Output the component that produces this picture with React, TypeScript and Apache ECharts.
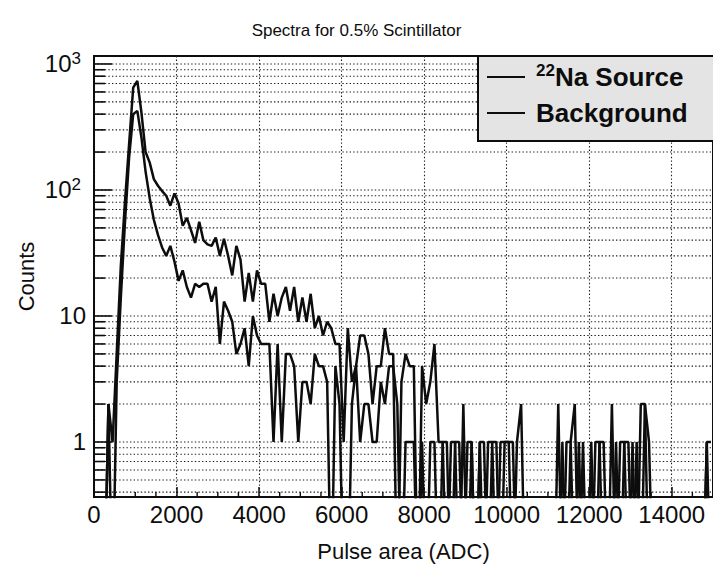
import React, { useEffect, useRef } from "react";
import * as echarts from "echarts";

// Histogram binning (ADC)
const BIN_WIDTH = 100;
const X_MIN = 0;
const X_MAX = 15000;
const X_MAJOR_STEP = 2000;
const xMinorTickValues = [500, 1000, 1500, 2500, 3000, 3500, 4500, 5000, 5500, 6500, 7000, 7500, 8500, 9000, 9500,
  10500, 11000, 11500, 12500, 13000, 13500, 14500];

const Y_MIN = 0.366;
const Y_MAX = 1157;
const yMajorTickValues = [1, 10, 100, 1000];
const yMinorTickValues = [0.4, 0.5, 0.6, 0.7, 0.8, 0.9, 2, 3, 4, 5, 6, 7, 8, 9, 20, 30, 40, 50, 60, 70, 80, 90,
  200, 300, 400, 500, 600, 700, 800, 900];

const SERIES_NAMES = ["22Na Source", "Background"];

// counts per 100-ADC bin, 0 .. 15000
const sourceCounts = [
  0, 0, 0, 2, 1, 5, 25, 80, 230, 650,
  735, 410, 200, 165, 122, 108, 98, 90, 75, 94,
  78, 52, 60, 48, 38, 56, 40, 37, 36, 42,
  30, 41, 30, 21, 36, 28, 13, 22, 13, 23,
  18, 18, 9, 15, 10, 14, 17, 11, 17, 9,
  14, 9, 15, 8, 10, 7, 9, 8, 6, 6,
  1, 8, 3, 4, 7, 7, 5, 2, 4, 4,
  8, 5, 5, 0, 3, 5, 4, 4, 0, 4,
  2, 3, 6, 1, 1, 0, 1, 1, 0, 2,
  0, 1, 0, 1, 1, 0, 1, 0, 1, 1,
  1, 0, 1, 2, 0, 0, 0, 0, 0, 0,
  0, 0, 2, 0, 1, 1, 2, 0, 1, 0,
  0, 1, 1, 0, 0, 2, 0, 1, 1, 0,
  1, 0, 2, 2, 0, 0, 0, 0, 0, 0,
  0, 0, 0, 0, 0, 0, 0, 0, 1, 1,
];

const backgroundCounts = [
  0, 0, 0, 2, 0, 3, 14, 55, 180, 400,
  424, 260, 140, 86, 58, 44, 35, 30, 36, 27,
  19, 23, 17, 14, 18, 17, 18, 18, 13, 17,
  6, 13, 11, 9, 5, 6, 8, 4, 10, 7,
  6, 6, 6, 1, 6, 1, 5, 5, 4, 1,
  3, 3, 2, 5, 4, 4, 3, 0, 4, 2,
  0, 0, 2, 4, 1, 2, 2, 1, 1, 3,
  2, 4, 4, 2, 0, 1, 1, 1, 0, 1,
  0, 1, 1, 0, 1, 1, 0, 1, 1, 0,
  1, 1, 0, 1, 0, 1, 1, 1, 0, 1,
  1, 1, 0, 0, 0, 0, 0, 0, 0, 0,
  0, 0, 0, 1, 0, 1, 0, 1, 0, 0,
  1, 0, 1, 1, 0, 0, 1, 0, 1, 1,
  0, 1, 0, 2, 1, 0, 0, 0, 0, 0,
  0, 0, 0, 0, 0, 0, 0, 0, 1, 0,
];

// empty bins are drawn below the frame (clipped), as on a log-scale histogram
const ZERO_FLOOR = 0.05;

const FONT = "'Liberation Sans', Arial, Helvetica, sans-serif";
const INK = "#0d0d0d";
const GRID_INK = "#1e1e1e";

function toPoints(counts: number[]) {
  return counts.map((c, i) => [X_MIN + (i + 0.5) * BIN_WIDTH, c > 0 ? c : ZERO_FLOOR]);
}

export default function App() {
  const ref = useRef<HTMLDivElement>(null);

  useEffect(() => {
    if (!ref.current) return;
    const chart = echarts.init(ref.current, null, { renderer: "svg" });

    const decoData: number[][] = [
      ...yMinorTickValues.map((v) => [X_MIN, v, 0]),
      ...yMajorTickValues.map((v) => [X_MIN, v, 1]),
      ...xMinorTickValues.map((v) => [v, Y_MIN, 2]),
    ];

    const option: any = {
      animation: false,
      backgroundColor: "#ffffff",
      title: {
        text: "Spectra for 0.5% Scintillator",
        left: "center",
        top: 17,
        textStyle: { fontSize: 17, fontWeight: "normal", color: INK, fontFamily: FONT },
      },
      legend: {
        data: SERIES_NAMES,
        orient: "vertical",
        left: 478,
        top: 56,
        itemWidth: 38,
        itemHeight: 2,
        icon: "rect",
        itemGap: 10,
        selectedMode: false,
        padding: [6, 60, 15, 9],
        backgroundColor: "#e4e4e4",
        borderColor: INK,
        borderWidth: 2,
        borderRadius: 0,
        formatter: (name: string) =>
          name === SERIES_NAMES[0] ? "{sup|22}{main|Na Source}" : "{main|" + name + "}",
        textStyle: {
          padding: [0, 0, 0, 6],
          rich: {
            main: { fontSize: 26, fontWeight: "bold", fontFamily: FONT, color: INK, lineHeight: 30 },
            sup: { fontSize: 17, fontWeight: "bold", fontFamily: FONT, color: INK, lineHeight: 18, verticalAlign: "top" },
          },
        },
      },
      grid: {
        left: 94,
        top: 56,
        width: 621,
        height: 441,
        show: true,
        borderColor: INK,
        borderWidth: 2,
        backgroundColor: "transparent",
      },
      xAxis: {
        type: "value",
        min: X_MIN,
        max: X_MAX,
        interval: X_MAJOR_STEP,
        axisLine: { show: true, lineStyle: { color: INK, width: 2 } },
        axisTick: { show: true, inside: true, length: 10, lineStyle: { color: INK, width: 1.5 } },
        minorTick: { show: false },
        splitLine: { show: true, lineStyle: { color: GRID_INK, width: 1.1, type: [1.4, 2.2] } },
        axisLabel: {
          showMaxLabel: false,
          fontSize: 24,
          color: INK,
          fontFamily: FONT,
          margin: 5,
          formatter: (v: number) => String(v),
        },
        name: "Pulse area (ADC)",
        nameLocation: "middle",
        nameGap: 43,
        nameMoveOverlap: false,
        nameTextStyle: { fontSize: 22, color: INK, fontFamily: FONT },
      },
      yAxis: {
        type: "log",
        logBase: 10,
        min: Y_MIN,
        max: Y_MAX,
        axisLine: { show: true, lineStyle: { color: INK, width: 2 } },
        axisTick: { show: false },
        splitLine: { show: false },
        axisLabel: {
          showMinLabel: false,
          showMaxLabel: false,
          margin: 8,
          fontSize: 24,
          color: INK,
          fontFamily: FONT,
          formatter: (v: number) => {
            const e = Math.log10(v);
            const r = Math.round(e);
            if (Math.abs(e - r) > 1e-6) return "";
            if (r === 0) return "{main|1}";
            if (r === 1) return "{main|10}";
            return "{main|10}{sup|" + r + "}";
          },
          rich: {
            main: { fontSize: 24, fontFamily: FONT, color: INK, lineHeight: 28 },
            sup: { fontSize: 17, fontFamily: FONT, color: INK, lineHeight: 17, verticalAlign: "top", padding: [0, 5, 0, 0] },
          },
        },
        name: "Counts",
        nameLocation: "middle",
        nameGap: 57,
        nameMoveOverlap: false,
        nameTextStyle: { fontSize: 22, color: INK, fontFamily: FONT },
      },
      series: [
        {
          type: "custom",
          name: "frame-decorations",
          silent: true,
          z: 1,
          clip: false,
          data: decoData,
          renderItem: (params: any, api: any) => {
            const cs = params.coordSys;
            const kind = api.value(2);
            if (kind === 2) {
              const p = api.coord([api.value(0), Y_MIN]);
              return {
                type: "line",
                shape: { x1: p[0], y1: cs.y + cs.height, x2: p[0], y2: cs.y + cs.height - 5 },
                style: { stroke: INK, lineWidth: 1.4 },
              };
            }
            const y = api.coord([X_MIN, api.value(1)])[1];
            return {
              type: "group",
              children: [
                {
                  type: "line",
                  shape: { x1: cs.x, y1: y, x2: cs.x + cs.width, y2: y },
                  style: { stroke: GRID_INK, lineWidth: 1.1, lineDash: [1.4, 2.2] },
                },
                {
                  type: "line",
                  shape: { x1: cs.x, y1: y, x2: cs.x + (kind === 1 ? 18 : 11), y2: y },
                  style: { stroke: INK, lineWidth: 1.6 },
                },
              ],
            };
          },
        },
        {
          type: "line",
          name: SERIES_NAMES[0],
          data: toPoints(sourceCounts),
          showSymbol: false,
          symbol: "none",
          clip: true,
          z: 3,
          color: INK,
          lineStyle: { color: INK, width: 2.5 },
        },
        {
          type: "line",
          name: SERIES_NAMES[1],
          data: toPoints(backgroundCounts),
          showSymbol: false,
          symbol: "none",
          clip: true,
          z: 3,
          color: INK,
          lineStyle: { color: INK, width: 2.5 },
        },
      ],
    };

    chart.setOption(option);
    return () => chart.dispose();
  }, []);

  return (
    <div
      ref={ref}
      style={{ position: "absolute", left: 0, top: 0, width: 713, height: 569, background: "#fff" }}
    />
  );
}
